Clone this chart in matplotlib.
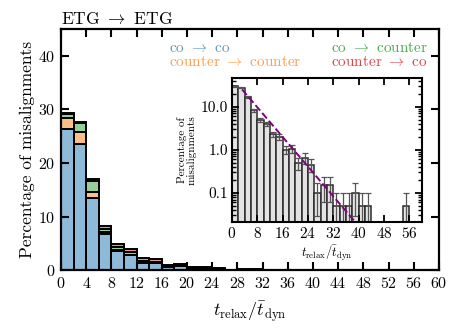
import numpy as np
import matplotlib
matplotlib.use("Agg")
import matplotlib.pyplot as plt
from matplotlib.ticker import MultipleLocator, FixedLocator, FormatStrFormatter, LogLocator, NullFormatter

plt.rcParams['font.family'] = 'serif'
plt.rcParams['font.serif'] = ['cmr10']
plt.rcParams['mathtext.fontset'] = 'cm'
plt.rcParams['axes.formatter.use_mathtext'] = True

# ---------------- data ----------------
bin_lo = list(range(0, 60, 2))          # bin left edges, width 2
bin_width = 2
co_co = [26.4, 23.6, 13.4, 6.7, 3.6, 2.8, 1.4, 1.4, 0.6, 0.8, 0.3, 0.45, 0.25, 0.05, 0.1, 0.1,
         0.05, 0.05, 0.05, 0.1, 0.05, 0.05, 0, 0, 0, 0, 0, 0.05, 0, 0]
counter_counter = [2.0, 2.2, 1.2, 0.4, 0.15, 0.1, 0.05, 0, 0, 0, 0, 0, 0, 0, 0, 0,
                   0, 0, 0, 0, 0, 0, 0, 0, 0, 0, 0, 0, 0, 0]
co_counter = [0.7, 1.6, 2.0, 0.6, 0.6, 0.5, 0.3, 0.1, 0.1, 0.05, 0.05, 0, 0, 0, 0, 0,
              0, 0, 0, 0, 0, 0, 0, 0, 0, 0, 0, 0, 0, 0]
counter_co = [0.3, 0.3, 0.5, 0.6, 0.55, 0.6, 0.55, 0.5, 0.3, 0.2, 0.15, 0.2, 0.2, 0.05, 0.05, 0.05,
              0, 0, 0, 0, 0, 0, 0, 0, 0, 0, 0, 0, 0, 0]
# inset: total percentages and Poisson errors
total = [29.4, 27.7, 17.1, 8.3, 4.9, 4.0, 2.3, 2.0, 1.0, 1.05, 0.5, 0.65, 0.45, 0.1, 0.15, 0.15,
         0.05, 0.05, 0.05, 0.1, 0.05, 0.05, 0, 0, 0, 0, 0, 0.05, 0, 0]
total_err = [1.21, 1.18, 0.92, 0.64, 0.49, 0.45, 0.34, 0.32, 0.22, 0.23, 0.16, 0.18, 0.15, 0.071, 0.087, 0.087,
             0.05, 0.05, 0.05, 0.071, 0.05, 0.05, 0, 0, 0, 0, 0, 0.05, 0, 0]
# exponential fit shown in inset (start/end of dashed line)
fit_x = [3.2, 39.1]
fit_amp = 47.3
fit_tau = 5.05

series = [("co $\\rightarrow$ co", co_co, "tab:blue"),
          ("counter $\\rightarrow$ counter", counter_counter, "tab:orange"),
          ("co $\\rightarrow$ counter", co_counter, "tab:green"),
          ("counter $\\rightarrow$ co", counter_co, "tab:red")]

# ---------------- figure ----------------
fig = plt.figure(figsize=(4.63, 3.31), dpi=100)
ax = fig.add_axes([0.132, 0.184, 0.816, 0.728])

bottom = np.zeros(len(bin_lo))
for label, vals, col in series:
    ax.bar(bin_lo, vals, width=bin_width, align='edge', bottom=bottom, color=col, alpha=0.5,
           edgecolor='none')
    ax.bar(bin_lo, vals, width=bin_width, align='edge', bottom=bottom, facecolor='none',
           edgecolor='black', linewidth=1.4)
    bottom = bottom + np.array(vals)

ax.set_xlim(0, 60)
ax.set_ylim(0, 45)
ax.xaxis.set_major_locator(MultipleLocator(4))
ax.yaxis.set_major_locator(MultipleLocator(10))
ax.tick_params(direction='in', length=6, width=1.5, top=True, right=True, labelsize=11.5, pad=4)
for s in ax.spines.values():
    s.set_linewidth(1.6)
ax.set_ylabel("Percentage of misalignments", fontsize=12.5, labelpad=2)
ax.set_xlabel(r"$t_{\rm relax}/\bar{t}_{\rm dyn}$", fontsize=13, labelpad=6)
ax.set_title(r"ETG $\rightarrow$ ETG", loc='left', fontsize=12.5, pad=4)

# colored text legend
ax.text(0.286, 0.921, series[0][0], color=plt.matplotlib.colors.to_rgba(series[0][2], 0.75),
        transform=ax.transAxes, fontsize=11, ha='left', va='center')
ax.text(0.286, 0.863, series[1][0], color=plt.matplotlib.colors.to_rgba(series[1][2], 0.75),
        transform=ax.transAxes, fontsize=11, ha='left', va='center')
ax.text(0.971, 0.921, series[2][0], color=plt.matplotlib.colors.to_rgba(series[2][2], 0.85),
        transform=ax.transAxes, fontsize=11, ha='right', va='center')
ax.text(0.971, 0.863, series[3][0], color=plt.matplotlib.colors.to_rgba(series[3][2], 0.85),
        transform=ax.transAxes, fontsize=11, ha='right', va='center')

# ---------------- inset ----------------
ins = fig.add_axes([0.501, 0.329, 0.410, 0.435])
lo_nz = [b for b, v in zip(bin_lo, total) if v > 0]
v_nz = [v for v in total if v > 0]
e_nz = [e for e, v in zip(total_err, total) if v > 0]
ins.bar(lo_nz, v_nz, width=bin_width, align='edge', color='#e3e3e3', edgecolor='#2a2a2a',
        linewidth=1.1)
centers = [b + bin_width / 2 for b in lo_nz]
ins.errorbar(centers, v_nz, yerr=e_nz, fmt='none', ecolor='#555555', elinewidth=0.9, capsize=2.5,
             capthick=0.9)
fx = np.linspace(fit_x[0], fit_x[1], 50)
ins.plot(fx, fit_amp * np.exp(-fx / fit_tau), ls='--', color='purple', lw=1.4)
ins.set_yscale('log')
ins.set_xlim(0, 60)
ins.set_ylim(0.021, 46)
ins.xaxis.set_major_locator(MultipleLocator(8))
ins.yaxis.set_major_locator(FixedLocator([0.1, 1.0, 10.0]))
ins.yaxis.set_major_formatter(FormatStrFormatter('%.1f'))
ins.yaxis.set_minor_locator(LogLocator(base=10, subs=np.arange(2, 10), numticks=20))
ins.yaxis.set_minor_formatter(NullFormatter())
ins.tick_params(which='major', direction='in', length=5, width=1.3, top=True, right=True,
                labelsize=11, pad=3)
ins.tick_params(which='minor', direction='in', length=3, width=1.0, top=True, right=True)
for s in ins.spines.values():
    s.set_linewidth(1.5)
ins.set_ylabel("Percentage of\nmisalignments", fontsize=8, labelpad=3, linespacing=0.9)
ins.set_xlabel(r"$t_{\rm relax}/\bar{t}_{\rm dyn}$", fontsize=9, labelpad=2)

fig.savefig("out.png", dpi=100)
